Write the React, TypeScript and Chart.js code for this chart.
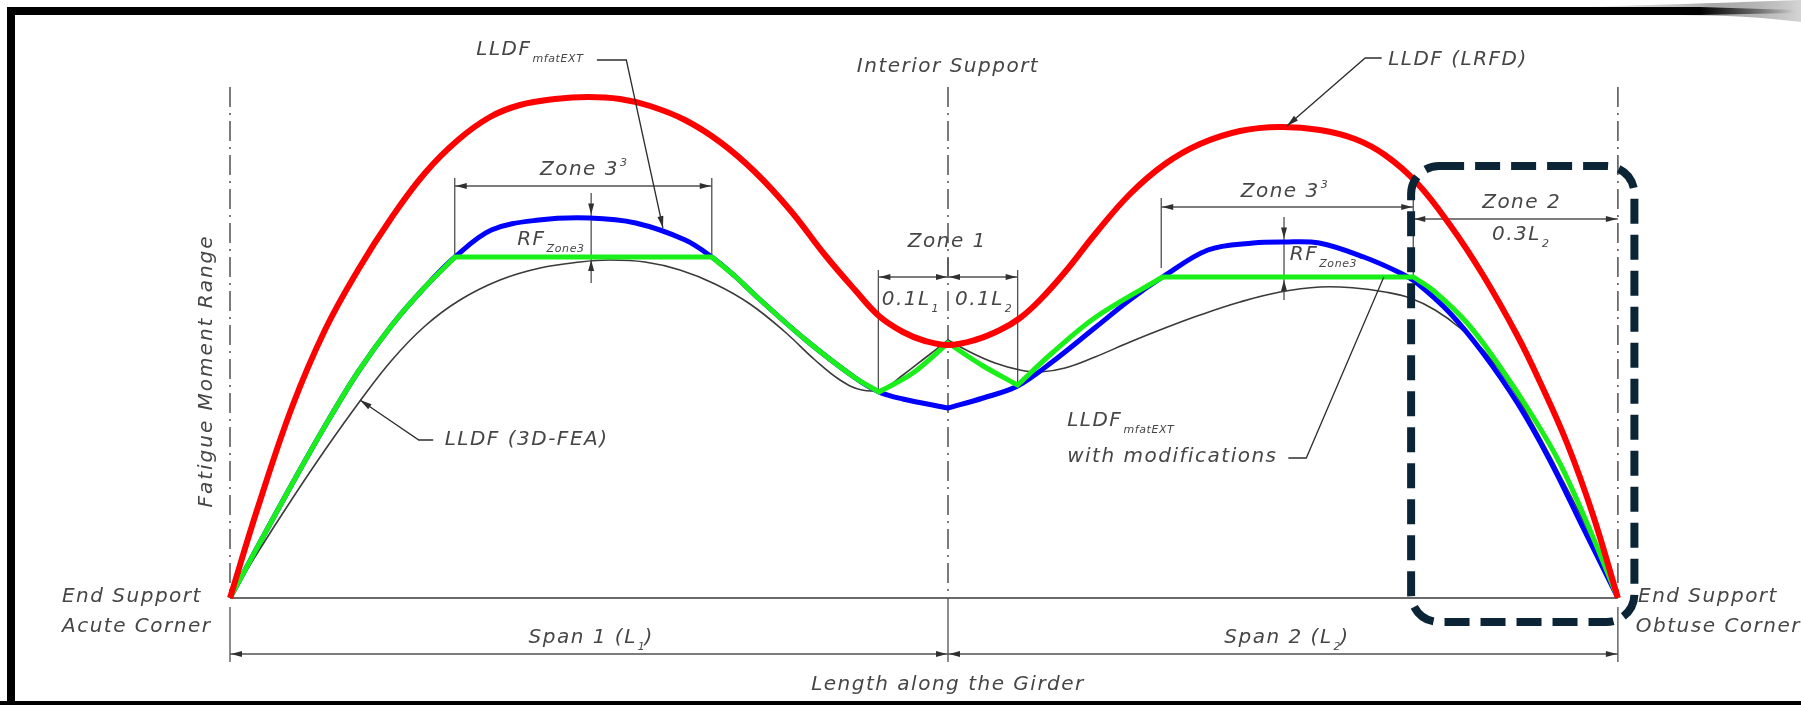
import React, { useEffect, useRef } from 'react';
import { Chart, registerables } from 'chart.js';

Chart.register(...registerables);

// x: length along the girder (span 1 = 0..100, span 2 = 100..193.3)
// y: fatigue moment range (relative units)
const SUPPORTS = [0, 100, 193.3];

// LLDF (LRFD) – red
const lrfd: number[][] = [
  [0, 0], [3.9, 18.2], [8.64, 38.2], [13.23, 53.6], [17.83, 65.6], [22.56, 76.2], [27.16, 85],
  [31.75, 91.6], [36.21, 96.2], [40.39, 98.6], [45.26, 99.8], [49.86, 100.2], [54.32, 99.8],
  [58.5, 98.4], [63.37, 95.6], [68.25, 91.2], [73.12, 85.2], [78.0, 77.6], [82.87, 68.6],
  [87.05, 61.6], [90.39, 56.4], [93.73, 53.2], [96.8, 51.4], [100, 50.6],
  [103.76, 51.6], [107.24, 53.6], [110.03, 56], [112.81, 59.6], [116.3, 65.2], [120.61, 73],
  [125.35, 80.8], [130.22, 86.8], [135.1, 90.8], [140.67, 93.4], [146.24, 94.2], [151.81, 93.6],
  [156.69, 91.8], [160.86, 88.6], [165.32, 83], [169.92, 74.6], [174.51, 64.6], [179.25, 52.6],
  [182.45, 43.2], [186.21, 31], [189.83, 16.6], [193.3, 0],
];

// LLDF mfatEXT – blue (a repeated point marks a kink)
const mfatExt: number[][] = [
  [0, 0], [3.9, 10.4], [8.64, 22.8], [13.23, 34.4], [17.83, 45.2], [22.56, 54.6], [27.16, 62.2],
  [31.34, 68.2], [36.4, 73.6], [43, 75.6], [50.1, 76], [56.5, 75], [63.4, 71.6], [67.1, 68.2],
  [70.3, 64.4], [73.4, 60.2], [80.2, 51.6], [86.9, 44.2], [90.4, 41.2], [93.7, 39.8],
  [100, 38], [100, 38],
  [104.9, 40], [109.7, 42.4], [114.5, 47.2], [120.6, 54.2], [125.3, 59.6], [129.9, 64.2],
  [136.2, 69.6], [142.5, 71], [146.8, 71.2], [151.7, 71], [157.9, 68.2], [163, 65],
  [165.3, 63], [169.9, 57], [174.5, 49], [179.3, 39], [183.8, 27.6], [188.4, 14.2], [193.3, 0],
];

// LLDF mfatEXT with modifications – green (a repeated point marks a kink)
const mfatExtMod: number[][] = [
  [0, 0], [3.9, 10.4], [8.64, 22.8], [13.23, 34.4], [17.83, 45.2], [22.56, 54.6], [27.16, 62.2],
  [31.34, 68.2], [31.34, 68.2], [67.1, 68.2], [67.1, 68.2],
  [70.3, 64.4], [73.4, 60.2], [80.2, 51.6], [86.9, 44.2], [90.4, 41.2], [90.4, 41.2],
  [95.1, 45], [100, 51], [100, 51], [104.9, 46.4], [109.7, 42.6], [109.7, 42.6],
  [114.5, 49], [120.6, 56.2], [129.9, 64.2], [129.9, 64.2], [164.8, 64.2], [164.8, 64.2],
  [167.5, 61.6], [172.3, 55], [176.9, 46.2], [181.5, 36.2], [185.2, 27], [189, 15], [193.3, 0],
];

// LLDF (3D-FEA) – black
const fea3d: number[][] = [
  [0, 0], [3.9, 9.2], [8.64, 19.8], [13.23, 29.6], [18.11, 39.4], [22.56, 47.6], [27.16, 54.4],
  [32.03, 59.6], [37.6, 63.6], [43.18, 66], [48.75, 67.2], [52.92, 67.6], [57.8, 67.2],
  [62.67, 65.6], [67.55, 62.8], [72.42, 58.8], [77.3, 53.2], [81.48, 47.6], [84.96, 43.6],
  [88.02, 41.6], [90.81, 41.8], [93.73, 44.6], [96.8, 48], [100, 51.6], [100, 51.6],
  [103.06, 49.2], [106.55, 47], [110.03, 45.6], [112.81, 45.2], [116.3, 46], [120.47, 48.2],
  [125.35, 51.2], [130.22, 54], [135.1, 56.6], [140.67, 59.2], [146.24, 61.2], [151.81, 62.2],
  [156.69, 62], [160.86, 61.2], [164.35, 60], [167.83, 57.6], [171.31, 54], [174.79, 49.2],
  [178.27, 42.6], [181.75, 34], [185.24, 24.6], [189.42, 12.6], [193.3, 0],
];

// Dimension lines [x1, x2, y]
const hDims: number[][] = [
  [31.3, 67.1, 82.4], [90.3, 100, 64.2], [100, 109.7, 64.2],
  [129.7, 164.8, 78.2], [164.8, 193.3, 75.8], [0, 100, -11.2], [100, 193.3, -11.2],
];
// Extension lines [x, yTop, yBottom]
const extLines: number[][] = [
  [31.3, 84, 68.2], [67.1, 84, 68.2], [90.3, 65.6, 41.4], [109.7, 65.6, 42.6], [100, 68, 64],
  [129.7, 80, 66], [164.8, 80, 64.2], [0, -1.8, -12.8], [100, 0, -12.8], [193.3, -1.8, -12.8],
];
// RF dimensions [x, yTop, yBottom, tipTop, tipBottom]
const rfDims: number[][] = [
  [50.3, 81, 63, 76.7, 67.6], [146.8, 76.2, 59.6, 71.9, 63.6],
];
// Leaders: polyline points, arrow at last point flag
const leaders: { pts: number[][]; arrow: boolean }[] = [
  { pts: [[51.1, 107.6], [55.2, 107.6], [60.3, 74]], arrow: true },
  { pts: [[160.4, 108], [158.1, 108], [147.2, 94.4]], arrow: true },
  { pts: [[28.3, 31.6], [26.3, 31.6], [18.1, 39.6]], arrow: true },
  { pts: [[147.4, 28], [149.9, 28], [160.7, 64.2]], arrow: false },
];

type Part = { t: string; k?: 'sub' | 'sup' };
type Label = { parts: Part[]; x: number; y: number; align: 'left' | 'center' | 'right'; rot?: boolean; sp?: number };

const labels: Label[] = [
  { parts: [{ t: 'LLDF' }, { t: 'mfatEXT', k: 'sub' }], x: 34.3, y: 109.6, align: 'left' },
  { parts: [{ t: 'Interior Support' }], x: 100, y: 106.2, align: 'center' },
  { parts: [{ t: 'LLDF (LRFD)' }], x: 161.3, y: 107.6, align: 'left' },
  { parts: [{ t: 'Zone 3' }, { t: '3', k: 'sup' }], x: 49.2, y: 85.6, align: 'center' },
  { parts: [{ t: 'RF' }, { t: 'Zone3', k: 'sub' }], x: 40.0, y: 71.6, align: 'left' },
  { parts: [{ t: 'Zone 1' }], x: 99.9, y: 71.2, align: 'center' },
  { parts: [{ t: '0.1L' }, { t: '1', k: 'sub' }], x: 94.7, y: 59.6, align: 'center' },
  { parts: [{ t: '0.1L' }, { t: '2', k: 'sub' }], x: 104.9, y: 59.6, align: 'center' },
  { parts: [{ t: 'Zone 3' }, { t: '3', k: 'sup' }], x: 146.8, y: 81.2, align: 'center' },
  { parts: [{ t: 'RF' }, { t: 'Zone3', k: 'sub' }], x: 147.6, y: 68.6, align: 'left' },
  { parts: [{ t: 'Zone 2' }], x: 179.9, y: 79, align: 'center' },
  { parts: [{ t: '0.3L' }, { t: '2', k: 'sub' }], x: 179.7, y: 72.6, align: 'center' },
  { parts: [{ t: 'LLDF (3D-FEA)' }], x: 29.9, y: 31.6, align: 'left' },
  { parts: [{ t: 'LLDF' }, { t: 'mfatEXT', k: 'sub' }], x: 116.6, y: 35.4, align: 'left' },
  { parts: [{ t: 'with modifications' }], x: 116.6, y: 28.2, align: 'left' },
  { parts: [{ t: 'End Support' }], x: -23.4, y: 0.2, align: 'left' },
  { parts: [{ t: 'Acute Corner' }], x: -23.4, y: -5.8, align: 'left' },
  { parts: [{ t: 'End Support' }], x: 196.1, y: 0.2, align: 'left' },
  { parts: [{ t: 'Obtuse Corner' }], x: 195.8, y: -5.8, align: 'left' },
  { parts: [{ t: 'Span 1 (L' }, { t: '1', k: 'sub' }, { t: ')' }], x: 50.3, y: -8, align: 'center' },
  { parts: [{ t: 'Span 2 (L' }, { t: '2', k: 'sub' }, { t: ')' }], x: 147.2, y: -8, align: 'center' },
  { parts: [{ t: 'Length along the Girder' }], x: 100, y: -17.4, align: 'center' },
  { parts: [{ t: 'Fatigue Moment Range' }], x: -3.2, y: 45.4, align: 'center', rot: true, sp: 2 },
];

// Zone 2 highlight box [x1, x2, yTop, yBottom]
const zoneBox = [164.5, 195.6, 86.4, -4.8];

const FONT_FAMILY = '"DejaVu Sans", "Liberation Sans", sans-serif';
const TEXT_COLOR = '#464646';
const LINE_COLOR = '#505050';

function fnt(size: number) {
  return `italic ${size}px ${FONT_FAMILY}`;
}

function drawRich(ctx: any, parts: Part[], x: number, y: number, align: string, size = 20, spacing = 1.5) {
  ctx.save();
  ctx.textBaseline = 'middle';
  ctx.textAlign = 'left';
  ctx.fillStyle = TEXT_COLOR;
  const setF = (p: Part) => {
    const s = p.k ? 11 : size;
    ctx.font = fnt(s);
    ctx.letterSpacing = `${p.k ? 0.6 : spacing}px`;
  };
  const widths = parts.map((p) => {
    setF(p);
    return ctx.measureText(p.t).width;
  });
  const total = widths.reduce((a, b) => a + b, 0);
  let cx = align === 'left' ? x : align === 'center' ? x - total / 2 : x - total;
  parts.forEach((p, i) => {
    setF(p);
    const dy = p.k === 'sub' ? 9 : p.k === 'sup' ? -7 : 0;
    ctx.fillText(p.t, cx + (p.k ? 1 : 0), y + dy);
    cx += widths[i];
  });
  ctx.restore();
}

function arrowHead(ctx: any, tx: number, ty: number, fx: number, fy: number, len = 11, half = 3) {
  const a = Math.atan2(ty - fy, tx - fx);
  ctx.beginPath();
  ctx.moveTo(tx, ty);
  ctx.lineTo(tx - len * Math.cos(a) + half * Math.sin(a), ty - len * Math.sin(a) - half * Math.cos(a));
  ctx.lineTo(tx - len * Math.cos(a) - half * Math.sin(a), ty - len * Math.sin(a) + half * Math.cos(a));
  ctx.closePath();
  ctx.fill();
}

const drawingPlugin = {
  id: 'drawing',
  beforeDraw(chart: any) {
    const { ctx, width, height } = chart;
    ctx.save();
    ctx.fillStyle = '#ffffff';
    ctx.fillRect(0, 0, width, height);
    // page-curl shadow at top right
    const g = ctx.createLinearGradient(1580, 0, 1801, 0);
    g.addColorStop(0, 'rgba(120,120,120,0)');
    g.addColorStop(0.6, 'rgba(110,110,110,0.6)');
    g.addColorStop(1, 'rgba(210,210,210,0.95)');
    ctx.fillStyle = g;
    ctx.beginPath();
    ctx.moveTo(1580, 7);
    ctx.quadraticCurveTo(1720, 3, 1801, 0);
    ctx.lineTo(1801, 22);
    ctx.quadraticCurveTo(1740, 14, 1660, 15);
    ctx.closePath();
    ctx.fill();
    // frame
    ctx.fillStyle = '#000';
    ctx.fillRect(7, 7, 1693, 8);
    const g2 = ctx.createLinearGradient(1700, 0, 1795, 0);
    g2.addColorStop(0, 'rgba(0,0,0,1)');
    g2.addColorStop(1, 'rgba(0,0,0,0)');
    ctx.fillStyle = g2;
    ctx.beginPath();
    ctx.moveTo(1700, 7);
    ctx.lineTo(1795, 10);
    ctx.lineTo(1795, 13);
    ctx.lineTo(1700, 15);
    ctx.closePath();
    ctx.fill();
    ctx.fillStyle = '#000';
    ctx.fillRect(7, 7, 8, height - 7);
    ctx.fillRect(0, height - 4, width, 4);
    ctx.restore();
  },
  beforeDatasetsDraw(chart: any) {
    const { ctx } = chart;
    const X = (v: number) => chart.scales.x.getPixelForValue(v);
    const Y = (v: number) => chart.scales.y.getPixelForValue(v);
    ctx.save();
    // support center lines (dash-dot)
    ctx.strokeStyle = '#5a5a5a';
    ctx.lineWidth = 1.6;
    ctx.setLineDash([20, 6, 2, 6]);
    SUPPORTS.forEach((s) => {
      ctx.beginPath();
      ctx.moveTo(X(s), Y(102.2));
      ctx.lineTo(X(s), Y(0));
      ctx.stroke();
    });
    ctx.setLineDash([]);
    // baseline
    ctx.strokeStyle = '#6a6a6a';
    ctx.lineWidth = 2;
    ctx.beginPath();
    ctx.moveTo(X(SUPPORTS[0]), Y(0));
    ctx.lineTo(X(SUPPORTS[2]), Y(0));
    ctx.stroke();
    // extension lines
    ctx.strokeStyle = LINE_COLOR;
    ctx.lineWidth = 1.3;
    extLines.forEach(([x, y1, y2]) => {
      ctx.beginPath();
      ctx.moveTo(X(x), Y(y1));
      ctx.lineTo(X(x), Y(y2));
      ctx.stroke();
    });
    // horizontal dimension lines
    ctx.fillStyle = '#303030';
    hDims.forEach(([x1, x2, y]) => {
      ctx.beginPath();
      ctx.moveTo(X(x1), Y(y));
      ctx.lineTo(X(x2), Y(y));
      ctx.stroke();
      arrowHead(ctx, X(x1) + 1, Y(y), X(x2), Y(y));
      arrowHead(ctx, X(x2) - 1, Y(y), X(x1), Y(y));
    });
    // RF dimensions
    rfDims.forEach(([x, yt, yb, tt, tb]) => {
      ctx.beginPath();
      ctx.moveTo(X(x), Y(yt));
      ctx.lineTo(X(x), Y(yb));
      ctx.stroke();
      arrowHead(ctx, X(x), Y(tt), X(x), Y(yt));
      arrowHead(ctx, X(x), Y(tb), X(x), Y(yb));
    });
    ctx.restore();
  },
  afterDatasetsDraw(chart: any) {
    const { ctx } = chart;
    const X = (v: number) => chart.scales.x.getPixelForValue(v);
    const Y = (v: number) => chart.scales.y.getPixelForValue(v);
    ctx.save();
    // leaders
    ctx.strokeStyle = '#2e2e2e';
    ctx.fillStyle = '#2e2e2e';
    ctx.lineWidth = 1.3;
    leaders.forEach(({ pts, arrow }) => {
      ctx.beginPath();
      pts.forEach(([x, y], i) => (i === 0 ? ctx.moveTo(X(x), Y(y)) : ctx.lineTo(X(x), Y(y))));
      ctx.stroke();
      if (arrow) {
        const n = pts.length;
        arrowHead(ctx, X(pts[n - 1][0]), Y(pts[n - 1][1]), X(pts[n - 2][0]), Y(pts[n - 2][1]), 12, 3);
      }
    });
    // labels
    labels.forEach((l) => {
      if (l.rot) {
        ctx.save();
        ctx.translate(X(l.x), Y(l.y));
        ctx.rotate(-Math.PI / 2);
        drawRich(ctx, l.parts, 0, 0, 'center', 20, l.sp ?? 1.5);
        ctx.restore();
      } else {
        drawRich(ctx, l.parts, X(l.x), Y(l.y), l.align, 20, l.sp ?? 1.5);
      }
    });
    // Zone 2 highlight box
    const [bx1, bx2, by1, by2] = zoneBox;
    const x1 = X(bx1), x2 = X(bx2), y1 = Y(by1), y2 = Y(by2);
    const r = 28;
    ctx.strokeStyle = '#0b2536';
    ctx.lineWidth = 8;
    ctx.setLineDash([25, 11]);
    ctx.beginPath();
    ctx.moveTo(x1 + r, y1);
    ctx.lineTo(x2 - r, y1);
    ctx.arcTo(x2, y1, x2, y1 + r, r);
    ctx.lineTo(x2, y2 - r);
    ctx.arcTo(x2, y2, x2 - r, y2, r);
    ctx.lineTo(x1 + r, y2);
    ctx.arcTo(x1, y2, x1, y2 - r, r);
    ctx.lineTo(x1, y1 + r);
    ctx.arcTo(x1, y1, x1 + r, y1, r);
    ctx.closePath();
    ctx.stroke();
    ctx.restore();
  },
};

const toXY = (a: number[][]) => a.map(([x, y]) => ({ x, y }));

export default function App() {
  const ref = useRef<HTMLCanvasElement | null>(null);
  useEffect(() => {
    if (!ref.current) return;
    const chart = new Chart(ref.current, {
      type: 'scatter',
      data: {
        datasets: [
          {
            label: 'LLDF (LRFD)',
            data: toXY(lrfd),
            showLine: true,
            borderColor: '#ff0000',
            borderWidth: 6,
            pointRadius: 0,
            tension: 0.4,
          },
          {
            label: 'LLDF mfatEXT with modifications',
            data: toXY(mfatExtMod),
            showLine: true,
            borderColor: '#19f019',
            borderWidth: 5,
            pointRadius: 0,
            tension: 0.35,
          },
          {
            label: 'LLDF mfatEXT',
            data: toXY(mfatExt),
            showLine: true,
            borderColor: '#0000ff',
            borderWidth: 5,
            pointRadius: 0,
            tension: 0.35,
          },
          {
            label: 'LLDF (3D-FEA)',
            data: toXY(fea3d),
            showLine: true,
            borderColor: '#3a3a3a',
            borderWidth: 1.6,
            pointRadius: 0,
            tension: 0.4,
          },
        ] as any,
      },
      options: {
        responsive: false,
        animation: false,
        devicePixelRatio: 1,
        layout: { padding: 0 },
        plugins: { legend: { display: false }, tooltip: { enabled: false } },
        scales: {
          x: { type: 'linear', display: false, min: -230 / 7.18, max: (1801 - 230) / 7.18 },
          y: { type: 'linear', display: false, min: -107 / 5, max: 598 / 5 },
        },
      } as any,
      plugins: [drawingPlugin],
    });
    return () => chart.destroy();
  }, []);
  return (
    <div style={{ position: 'fixed', left: 0, top: 0, width: 1801, height: 705, background: '#fff' }}>
      <canvas ref={ref} width={1801} height={705} style={{ width: 1801, height: 705, display: 'block' }} />
    </div>
  );
}
